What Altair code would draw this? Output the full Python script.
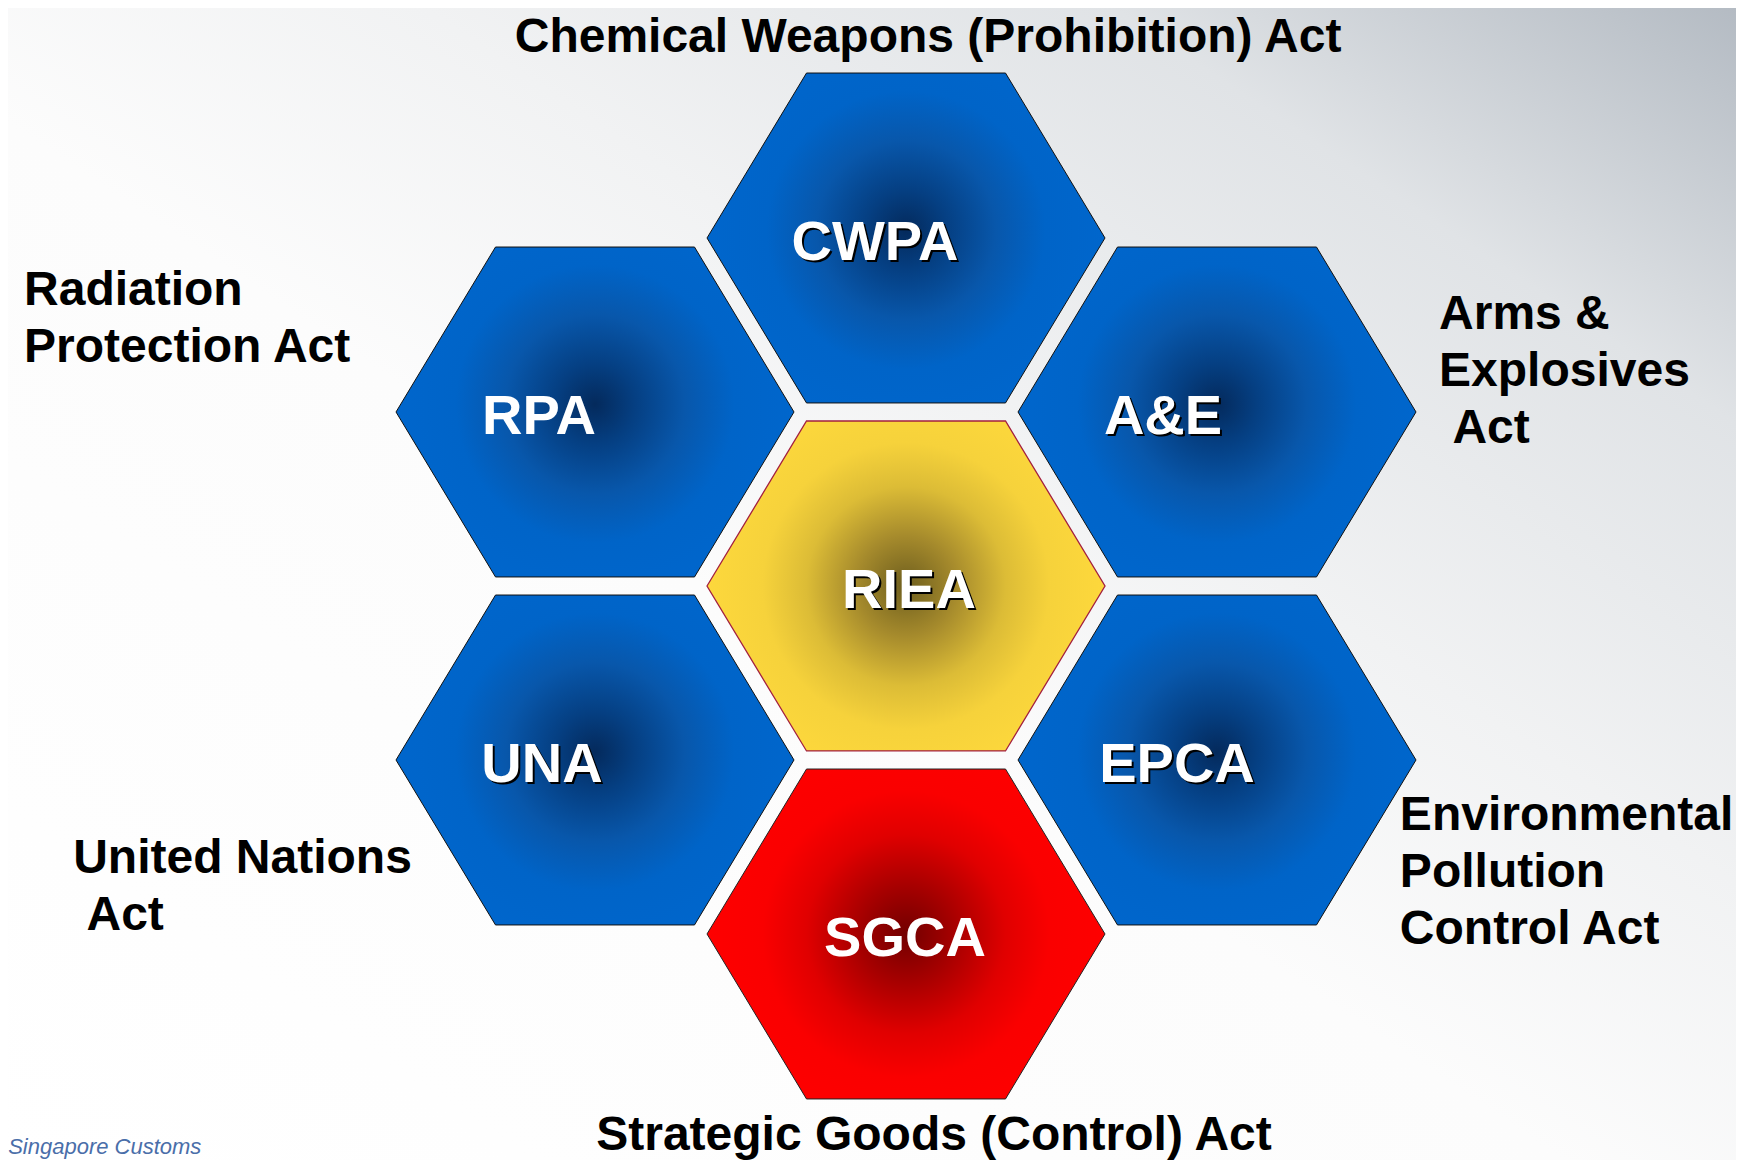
import altair as alt
import pandas as pd

# ---------------- data ----------------
hex_names = ["CWPA", "RPA", "A&E", "RIEA", "UNA", "EPCA", "SGCA"]
hex_col = [0, -1, 1, 0, -1, 1, 0]          # honeycomb column
hex_row = [2, 1, 1, 0, -1, -1, -2]         # honeycomb half-row
hex_kind = ["blue", "blue", "blue", "core", "blue", "blue", "strategic"]
hex_label_shift = [-31, -56, -54, 3, -53, -40, -1]   # label offset (px) from hex centre
hex_label_shadow = [True, False, True, True, True, True, False]

act_text = [
    "Chemical Weapons (Prohibition) Act",
    "Radiation\nProtection Act",
    "Arms &\nExplosives\n\u200b\u00a0Act",
    "United Nations\n\u200b\u00a0Act",
    "Environmental\nPollution\nControl Act",
    "Strategic Goods (Control) Act",
]
act_col = [0.071, -2.836, 1.714, -2.678, 1.588, 0.090]
act_row = [3.068, 1.615, 1.477, -1.649, -1.402, -3.241]
act_align = ["center", "left", "left", "left", "left", "center"]

footer_text = ["Singapore Customs"]
footer_col = [-2.887]
footer_row = [-3.265]

# ---------------- layout ----------------
W_PX, H_PX = 1728, 1152
COL_PX = 311.0
x_scale = alt.Scale(domain=[-2.8875, 2.6688], nice=False, zero=False)
y_scale = alt.Scale(domain=[-3.2989, 3.3218], nice=False, zero=False)

HEX_PATH = "M -1 0 L -0.5 -0.829 L 0.5 -0.829 L 1 0 L 0.5 0.829 L -0.5 0.829 Z"
HEX_SIZE = 398 * 398

hex_df = pd.DataFrame({
    "name": hex_names, "col": hex_col, "row": hex_row, "kind": hex_kind,
    "shift": hex_label_shift, "shadow": hex_label_shadow,
})
hex_df["label_col"] = hex_df["col"] + hex_df["shift"] / COL_PX

acts_df = pd.DataFrame({"text": act_text, "col": act_col, "row": act_row, "align": act_align})
footer_df = pd.DataFrame({"text": footer_text, "col": footer_col, "row": footer_row})


def radial(stops, cy=0.5):
    return {
        "gradient": "radial",
        "x1": 0.5, "y1": cy, "r1": 0,
        "x2": 0.5, "y2": cy, "r2": 0.5,
        "stops": [{"offset": o, "color": c} for o, c in stops],
    }


blue_grad = radial([(0, "#042a5c"), (0.2, "#053f82"), (0.45, "#0857ab"),
                    (0.7, "#0064c8"), (1, "#0066cc")], cy=0.48)
gold_grad = radial([(0, "#6e5e1e"), (0.25, "#a58a2c"), (0.5, "#dcbc36"),
                    (0.72, "#f6d23b"), (1, "#fdd83c")])
red_grad = radial([(0, "#720000"), (0.25, "#a80000"), (0.5, "#e00000"),
                   (0.72, "#fa0000"), (1, "#fe0000")])

bg_grad = {
    "gradient": "linear", "x1": 0, "y1": 1, "x2": 1, "y2": 0,
    "stops": [
        {"offset": 0, "color": "#ffffff"},
        {"offset": 0.45, "color": "#fcfcfc"},
        {"offset": 0.62, "color": "#f1f2f3"},
        {"offset": 0.82, "color": "#e0e3e6"},
        {"offset": 1, "color": "#b4bbc3"},
    ],
}

X = alt.X("col:Q", scale=x_scale, axis=None)
Y = alt.Y("row:Q", scale=y_scale, axis=None)
XL = alt.X("label_col:Q", scale=x_scale, axis=None)

bg = alt.Chart(pd.DataFrame({"k": [0]})).mark_rect(fill=bg_grad).encode(
    x=alt.value(0), x2=alt.value(W_PX), y=alt.value(0), y2=alt.value(H_PX)
)


def hex_layer(kind, grad, stroke, sw):
    return (
        alt.Chart(hex_df)
        .transform_filter(alt.datum.kind == kind)
        .mark_point(shape=HEX_PATH, size=HEX_SIZE, filled=True, fill=grad,
                    stroke=stroke, strokeWidth=sw, opacity=1, fillOpacity=1, strokeOpacity=1)
        .encode(x=X, y=Y)
    )


blue_hex = hex_layer("blue", blue_grad, "#111111", 1)
gold_hex = hex_layer("core", gold_grad, "#a31f3f", 1.3)
red_hex = hex_layer("strategic", red_grad, "#222222", 1)

label_style = dict(font="Liberation Sans", fontWeight="bold", fontSize=56,
                   baseline="alphabetic", align="center")

shadow = (
    alt.Chart(hex_df).transform_filter("datum.shadow")
    .mark_text(color="#000000", dx=2, dy=24, **label_style)
    .encode(x=XL, y=Y, text="name:N")
)
labels = (
    alt.Chart(hex_df)
    .mark_text(color="#ffffff", dy=22, **label_style)
    .encode(x=XL, y=Y, text="name:N")
)

act_style = dict(font="Liberation Sans", fontWeight="bold", fontSize=48,
                 lineHeight=57, lineBreak="\n", baseline="alphabetic", color="#000000")
acts_center = (
    alt.Chart(acts_df).transform_filter(alt.datum.align == "center")
    .mark_text(align="center", **act_style)
    .encode(x=X, y=Y, text="text:N")
)
acts_left = (
    alt.Chart(acts_df).transform_filter(alt.datum.align == "left")
    .mark_text(align="left", **act_style)
    .encode(x=X, y=Y, text="text:N")
)

footer = (
    alt.Chart(footer_df)
    .mark_text(font="Liberation Sans", fontStyle="italic", fontSize=22, color="#4a6ea9",
               align="left", baseline="alphabetic")
    .encode(x=X, y=Y, text="text:N")
)

chart = (
    alt.layer(bg, blue_hex, gold_hex, red_hex, shadow, labels, acts_center, acts_left, footer)
    .properties(width=W_PX, height=H_PX, padding=0,
                autosize=alt.AutoSizeParams(type="none"))
    .configure_view(stroke=None)
)

chart.save("out.html", embed_options={"renderer": "svg", "actions": False})
